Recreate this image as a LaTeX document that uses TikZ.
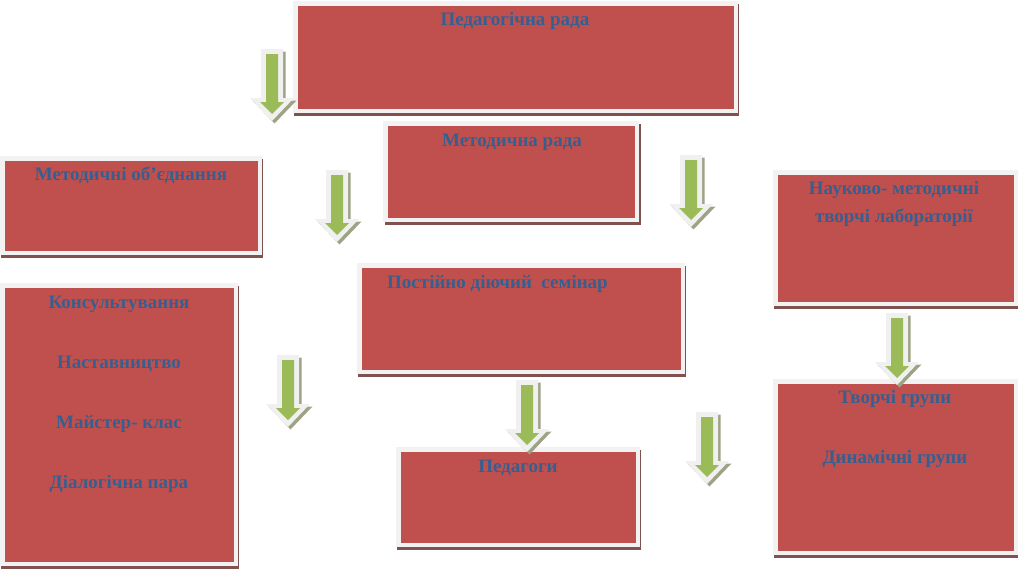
\documentclass[tikz,border=0pt]{standalone}
\usepackage{fontspec}
\setmainfont{Liberation Serif}
\usetikzlibrary{shadows}
\definecolor{boxred}{HTML}{C0504D}
\definecolor{boxgray}{HTML}{F2F2F2}
\definecolor{boxshadow}{HTML}{7F5250}
\definecolor{txt}{HTML}{365F91}
\definecolor{arrgreen}{HTML}{9BBB59}
\definecolor{arrgray}{HTML}{F0F0F0}
\definecolor{arrshadow}{HTML}{9EA386}
\tikzset{
  boxbase/.style={rectangle, fill=boxred, draw=boxgray, line width=4.5pt, inner sep=0pt},
  box/.style={boxbase,
    drop shadow={shadow xshift=0.5pt, shadow yshift=-3pt, opacity=1, fill=boxshadow, draw=boxshadow, line width=4.5pt}},
  boxr/.style={boxbase,
    drop shadow={shadow xshift=2pt, shadow yshift=-2.5pt, opacity=1, fill=boxshadow, draw=boxshadow, line width=4.5pt}},
  lbl/.style={text=txt, font=\fontsize{19}{28}\selectfont\bfseries, inner sep=0pt, anchor=base},
  garrow/.pic={
    \fill[arrshadow] (-8.5,2.5) -- (13.5,2.5) -- (13.5,51.5) -- (24.5,51.5) -- (2.5,74.5) -- (-19.5,51.5) -- (-8.5,51.5) -- cycle;
    \fill[arrgray] (-11,0) -- (11,0) -- (11,49) -- (22,49) -- (0,72) -- (-22,49) -- (-11,49) -- cycle;
    \fill[arrgreen] (-6,5) -- (6,5) -- (6,53) -- (12,53) -- (0,65) -- (-12,53) -- (-6,53) -- cycle;
  }
}
\begin{document}
\begin{tikzpicture}[x=1pt,y=-1pt]
\useasboundingbox (0,0) rectangle (1018,570);
% boxes
\node[box, minimum width=440.5pt, minimum height=107.5pt] (pedrada) at (515.5,57) {};
\node[boxr, minimum width=251.5pt, minimum height=96.5pt] (metrada) at (511,171.5) {};
\node[box, minimum width=257.5pt, minimum height=94.5pt] (metob) at (131,205.5) {};
\node[box, minimum width=233.5pt, minimum height=278.5pt] (kons) at (119,424.5) {};
\node[box, minimum width=240.5pt, minimum height=131.5pt] (nauk) at (895.5,238) {};
\node[box, minimum width=323.5pt, minimum height=106.5pt] (sem) at (521,318.5) {};
\node[box, minimum width=240.5pt, minimum height=171.5pt] (tvor) at (895.5,467) {};
\node[box, minimum width=239.5pt, minimum height=95.5pt] (ped) at (518,497) {};
% texts
\node[lbl] (t-pedrada) at (515,25) {Педагогічна рада};
\node[lbl] (t-metrada) at (512,146) {Методична рада};
\node[lbl] (t-metob) at (131,180) {Методичні об’єднання};
\node[lbl] (t-kons1) at (119,308) {Консультування};
\node[lbl] (t-kons2) at (119,368) {Наставництво};
\node[lbl] (t-kons3) at (119,428) {Майстер- клас};
\node[lbl] (t-kons4) at (119,488) {Діалогічна пара};
\node[lbl] (t-nauk1) at (894,194) {Науково- методичні};
\node[lbl] (t-nauk2) at (894,222) {творчі лабораторії};
\node[lbl, anchor=base west] (t-sem) at (387,288) {Постійно діючий\ \ семінар};
\node[lbl] (t-tvor1) at (895,403) {Творчі групи};
\node[lbl] (t-tvor2) at (895,463) {Динамічні групи};
\node[lbl] (t-ped) at (518,472) {Педагоги};
% block arrows
\pic (a1) at (272,49) {garrow};
\pic (a2) at (337,170) {garrow};
\pic (a3) at (691,155) {garrow};
\pic (a4) at (288,355) {garrow};
\pic (a5) at (527,380) {garrow};
\pic (a6) at (707,412) {garrow};
\pic (a7) at (897,313) {garrow};
\end{tikzpicture}
\end{document}
